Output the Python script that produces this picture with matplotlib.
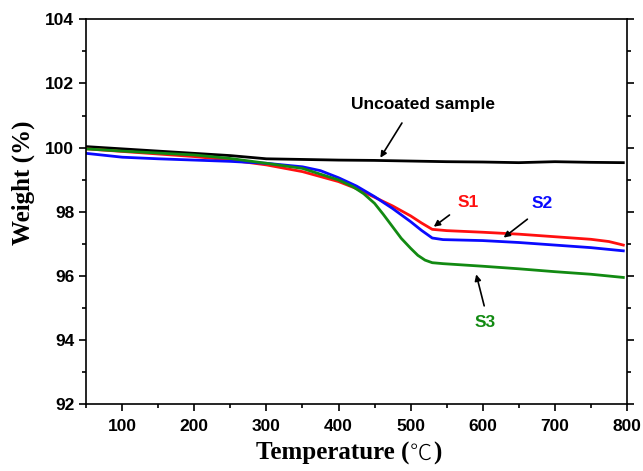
import matplotlib
matplotlib.use('Agg')
import matplotlib.pyplot as plt
from matplotlib.ticker import MultipleLocator

# TGA curves
t_unc = [50, 100, 150, 200, 250, 300, 350, 400, 450, 500, 550, 600, 650, 700, 750, 795]
w_unc = [100.03, 99.96, 99.89, 99.82, 99.75, 99.65, 99.63, 99.61, 99.60, 99.58, 99.56, 99.55, 99.53, 99.56, 99.54, 99.53]

t_s1 = [50, 100, 150, 200, 250, 300, 350, 400, 425, 450, 475, 500, 515, 530, 550, 600, 650, 700, 750, 775, 795]
w_s1 = [99.96, 99.88, 99.80, 99.72, 99.61, 99.46, 99.25, 98.94, 98.72, 98.45, 98.18, 97.87, 97.65, 97.45, 97.41, 97.36, 97.30, 97.22, 97.14, 97.07, 96.96]

t_s2 = [50, 100, 150, 200, 250, 300, 350, 375, 400, 425, 450, 475, 500, 515, 530, 545, 600, 650, 700, 750, 795]
w_s2 = [99.82, 99.70, 99.65, 99.61, 99.57, 99.51, 99.40, 99.28, 99.06, 98.80, 98.47, 98.10, 97.69, 97.42, 97.18, 97.13, 97.10, 97.04, 96.96, 96.88, 96.78]

t_s3 = [50, 100, 150, 200, 250, 300, 350, 400, 420, 435, 450, 462, 475, 487, 500, 510, 520, 530, 545, 600, 650, 700, 750, 795]
w_s3 = [99.96, 99.89, 99.83, 99.77, 99.66, 99.51, 99.35, 98.99, 98.78, 98.56, 98.26, 97.92, 97.53, 97.17, 96.86, 96.64, 96.49, 96.41, 96.38, 96.30, 96.22, 96.13, 96.05, 95.95]

plt.rcParams['font.family'] = ['Liberation Sans', 'DejaVu Sans']

fig = plt.figure(figsize=(6.43, 4.71), dpi=100)
ax = fig.add_axes([0.134, 0.142, 0.841, 0.817])

ax.plot(t_unc, w_unc, color='black', lw=2)
ax.plot(t_s1, w_s1, color='#ff1010', lw=2)
ax.plot(t_s2, w_s2, color='#0a0aff', lw=2)
ax.plot(t_s3, w_s3, color='#128a12', lw=2)

ax.set_xlim(50, 800)
ax.set_ylim(92, 104)
ax.xaxis.set_major_locator(MultipleLocator(100))
ax.xaxis.set_minor_locator(MultipleLocator(50))
ax.yaxis.set_major_locator(MultipleLocator(2))
ax.yaxis.set_minor_locator(MultipleLocator(1))
ax.tick_params(which='both', direction='out', width=1.2, right=True, top=False,
               labelsize=12.5)
ax.tick_params(which='major', length=5)
ax.tick_params(which='minor', length=3)
ax.tick_params(axis='x', pad=6)
ax.tick_params(axis='y', which='both', right=True, labelright=False)
for lab in ax.get_xticklabels() + ax.get_yticklabels():
    lab.set_fontweight('bold')
for s in ax.spines.values():
    s.set_linewidth(1.2)

serif = ['Liberation Serif', 'DejaVu Serif']
ax.set_ylabel('Weight (%)', family=serif, fontweight='bold', fontsize=18)
ax.yaxis.set_label_coords(-0.094, 0.574)

# x label in three pieces so the degree sign can be light
xl1 = fig.text(0.398, 0.025, 'Temperature (', family=serif, fontweight='bold',
               fontsize=18, ha='left', va='baseline')
xl2 = ax.annotate('\u2103', xy=(1, 0), xycoords=xl1, ha='left', va='bottom',
                  family=['Noto Sans CJK JP', 'DejaVu Sans'], fontweight='light',
                  fontsize=16, annotation_clip=False)
xl3 = ax.annotate(')', xy=(1, 0), xycoords=xl2, xytext=(1, 0), textcoords='offset points',
                  ha='left', va='bottom', family=serif, fontweight='bold', fontsize=18,
                  annotation_clip=False)

arw = dict(arrowstyle='-|>', color='black', lw=1.2, mutation_scale=9)
ax.text(517, 101.33, 'Uncoated sample', ha='center', va='center', fontsize=12.5, fontweight='bold')
ax.annotate('', xy=(456, 99.61), xytext=(490, 100.84), arrowprops=arw)

ax.text(580, 98.28, 'S1', color='#ff1010', fontsize=12.5, fontweight='bold', ha='center', va='center')
ax.annotate('', xy=(529, 97.48), xytext=(557, 97.95), arrowprops=arw)
ax.text(682, 98.26, 'S2', color='#0a0aff', fontsize=12.5, fontweight='bold', ha='center', va='center')
ax.annotate('', xy=(626, 97.14), xytext=(665, 97.82), arrowprops=arw)
ax.text(604, 94.54, 'S3', color='#128a12', fontsize=12.5, fontweight='bold', ha='center', va='center')
ax.annotate('', xy=(590, 96.13), xytext=(603, 94.98), arrowprops=arw)

fig.savefig('out.png', dpi=100)
